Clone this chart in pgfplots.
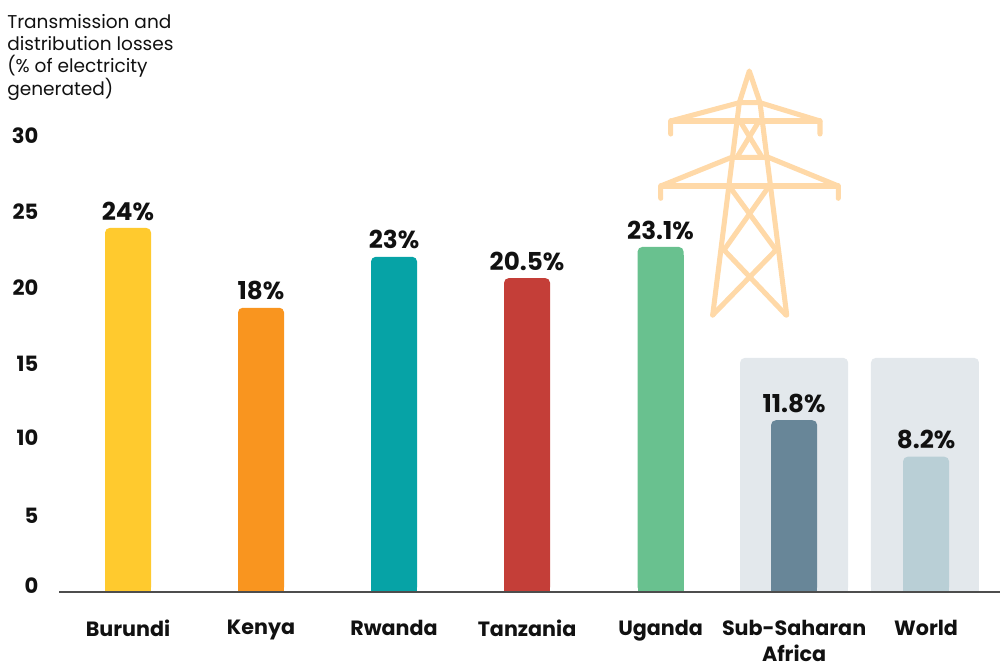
\documentclass[border=0pt]{standalone}
\usepackage{fontspec}
\setmainfont{Poppins}
\usepackage{pgfplots}
\pgfplotsset{compat=1.18}
\definecolor{cBurundi}{HTML}{FFCA2E}
\definecolor{cKenya}{HTML}{F9951F}
\definecolor{cRwanda}{HTML}{06A3A6}
\definecolor{cTanzania}{HTML}{C43E38}
\definecolor{cUganda}{HTML}{69C18F}
\definecolor{cSSA}{HTML}{688698}
\definecolor{cWorld}{HTML}{B9CFD6}
\definecolor{cBand}{HTML}{E3E8EC}
\definecolor{cTower}{HTML}{FFD9A8}
\definecolor{cText}{HTML}{111111}
\definecolor{cAxis}{HTML}{4D4D4D}

% rounded top, square foot: the second plot covers the lower corners
\newcommand{\roundbar}[5]{%
  \addplot[ybar, bar shift=0pt, bar width=#4, fill=#3, draw=none, rounded corners=3.5pt,
    point meta=explicit symbolic, nodes near coords,
    nodes near coords align={anchor=south},
    every node near coord/.style={font=\bfseries\fontsize{18.5}{20}\selectfont, text=cText, inner sep=0pt, yshift=5.5pt}]
    coordinates {(#1,#2) [#5]};
  \addplot[ybar, bar shift=0pt, bar width=#4, fill=#3, draw=none, y filter/.expression={y-0.5}]
    coordinates {(#1,#2)};
}
\newcommand{\tower}[1]{\addplot[cTower, line width=3.8pt, line cap=round, line join=round] coordinates {#1};}

\begin{document}
\begin{tikzpicture}
\useasboundingbox (0,0) rectangle (750pt,498pt);

\begin{axis}[
  at={(44.25pt,54pt)}, anchor=south west,
  scale only axis, width=705.75pt, height=342pt,
  xmin=-0.519, xmax=6.556, ymin=0, ymax=30,
  clip=false, axis on top,
  axis x line=bottom, axis y line=left,
  x axis line style={-, draw=cAxis, line width=1.5pt},
  y axis line style={draw=none},
  major tick length=0pt,
  xtick={0,1,2,3,4.004,5.008,6},
  xticklabels={Burundi,Kenya,Rwanda,Tanzania,Uganda,{Sub-Saharan\\Africa},World},
  xticklabel style={font=\bfseries\fontsize{15.5}{19.5}\selectfont, text=cText, align=center, anchor=north, yshift=-17.6pt},
  ytick={0,5,10,15,20,25,30},
  yticklabels={\raisebox{9pt}{0},\raisebox{-3pt}{5},\raisebox{3pt}{10},15,20,25,30},
  yticklabel style={font=\bfseries\fontsize{15.8}{18}\selectfont, text=cText, anchor=east, xshift=-12pt},
]
\roundbar{5.008}{15.4}{cBand}{81pt}{}
\roundbar{5.992}{15.4}{cBand}{81pt}{}
\roundbar{0}{23.95}{cBurundi}{34.5pt}{24\%}
\roundbar{1}{18.7}{cKenya}{34.5pt}{18\%}
\roundbar{2}{22.05}{cRwanda}{34.5pt}{23\%}
\roundbar{3}{20.65}{cTanzania}{34.5pt}{20.5\%}
\roundbar{4.004}{22.7}{cUganda}{34.5pt}{23.1\%}
\roundbar{5.008}{11.3}{cSSA}{34.5pt}{11.8\%}
\roundbar{6}{8.9}{cWorld}{34.5pt}{8.2\%}
\end{axis}

% pylon, in picture pixels
\begin{axis}[
  at={(0pt,0pt)}, anchor=south west,
  scale only axis, width=750pt, height=498pt,
  xmin=0, xmax=1000, ymin=0, ymax=664, y dir=reverse,
  hide axis, clip=false,
]
\tower{(712.7,315)(739.3,102.7)(749.3,71)(760,102.7)(786.7,315)}
\tower{(670.7,134)(670.7,121)(739.3,102.7)(760,102.7)(820,121)(820,134)}
\tower{(670.7,121)(820,121)}
\tower{(740.7,122.3)(761.7,156.7)}
\tower{(758.3,122.3)(737.3,156.7)}
\tower{(660.7,198.3)(660.7,186)(731.7,157.3)(768.3,157.3)(838.3,186)(838.3,198.3)}
\tower{(660.7,186)(838.3,186)}
\tower{(730,187.3)(776,250)(712.7,315)}
\tower{(768.3,187.3)(724,250)(786,315)}
\end{axis}

\node[anchor=north west, inner sep=0pt, align=left, text=cText,
  font=\fontsize{13.9}{16.7}\selectfont] at (5.25pt,487.5pt)
  {Transmission and\\distribution losses\\(\%~of electricity\\generated)};
\end{tikzpicture}
\end{document}
